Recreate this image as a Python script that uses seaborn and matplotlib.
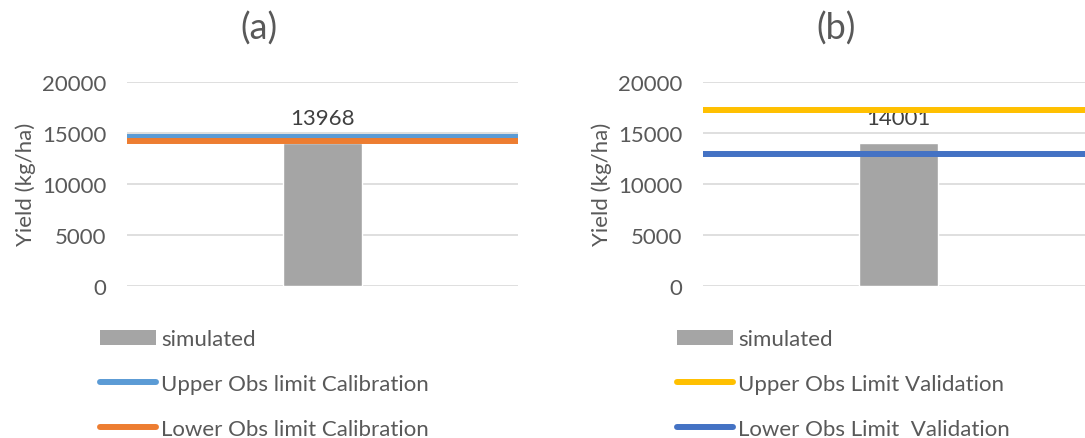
import matplotlib
matplotlib.use("Agg")
import matplotlib.pyplot as plt
import seaborn as sns
import pandas as pd
from matplotlib.patches import Patch
from matplotlib.lines import Line2D

# Simulated yield and observed limits (kg/ha)
categories = ["Yield"]
sim_calibration = [13968]
sim_validation = [14001]
upper_calibration = 14600
lower_calibration = 14150
upper_validation = 17250
lower_validation = 12930

panel_titles = ["(a)", "(b)"]
ytick_values = [0, 5000, 10000, 15000, 20000]
ylabel = "Yield (kg/ha)"
legend_a = ["simulated", "Upper Obs limit Calibration", "Lower Obs limit Calibration"]
legend_b = ["simulated", "Upper Obs Limit Validation", "Lower Obs Limit  Validation"]

sns.set_theme(style="white")
plt.rcParams["font.family"] = ["Lato", "DejaVu Sans"]

TEXT = "#595959"
GRID = "#d9d9d9"
BAR = "#a5a5a5"
FS = 16

W, H = 1085, 439
fig = plt.figure(figsize=(W / 100, H / 100), dpi=100)


def px_axes(left, top, right, bottom):
    return fig.add_axes([left / W, 1 - bottom / H, (right - left) / W, (bottom - top) / H])


def panel(ax, values, upper, lower, c_up, c_low, labels, legend_x):
    df = pd.DataFrame({"cat": categories, "val": values})
    sns.barplot(data=df, x="cat", y="val", color=BAR, width=0.2, saturation=1,
                ax=ax, zorder=2)
    ax.bar_label(ax.containers[0], labels=[f"{v}" for v in values], padding=11,
                 fontsize=FS, color="#404040")
    ax.axhline(upper, color=c_up, lw=4.3, zorder=3, solid_capstyle="butt")
    ax.axhline(lower, color=c_low, lw=4.3, zorder=4, solid_capstyle="butt")
    ax.set_xlim(-0.5, 0.5)
    ax.set_ylim(0, 20000)
    ax.set_yticks(ytick_values)
    ax.set_yticklabels([str(v) for v in ytick_values])
    ax.yaxis.grid(True, color=GRID, lw=1.2, zorder=0)
    ax.set_axisbelow(True)
    ax.set_xticks([])
    ax.set_xlabel("")
    ax.set_ylabel(ylabel, fontsize=FS, color=TEXT, labelpad=4)
    ax.tick_params(axis="y", length=0, pad=15, labelsize=FS, labelcolor=TEXT)
    for s in ax.spines.values():
        s.set_visible(False)

    handles = [
        Patch(facecolor=BAR, edgecolor="none"),
        Line2D([], [], color=c_up, lw=4.3, solid_capstyle="round"),
        Line2D([], [], color=c_low, lw=4.3, solid_capstyle="round"),
    ]
    fig.legend(handles, labels, loc="upper left",
               bbox_to_anchor=(legend_x / W, 1 - 330 / H),
               frameon=False, fontsize=FS, labelcolor=TEXT,
               handlelength=2.5, handleheight=0.65, handletextpad=0.25,
               labelspacing=1.12, borderpad=0, borderaxespad=0)


ax_a = px_axes(127, 82.7, 518, 287)
ax_b = px_axes(703, 82.7, 1094, 287)

panel(ax_a, sim_calibration, upper_calibration, lower_calibration,
      "#5b9bd5", "#ed7d31", legend_a, 100)
panel(ax_b, sim_validation, upper_validation, lower_validation,
      "#ffc000", "#4472c4", legend_b, 677)

fig.text(259 / W, 1 - 29 / H, panel_titles[0], ha="center", va="center",
         fontsize=26, color=TEXT)
fig.text(836 / W, 1 - 29 / H, panel_titles[1], ha="center", va="center",
         fontsize=26, color=TEXT)

fig.savefig("out.png", dpi=100)
